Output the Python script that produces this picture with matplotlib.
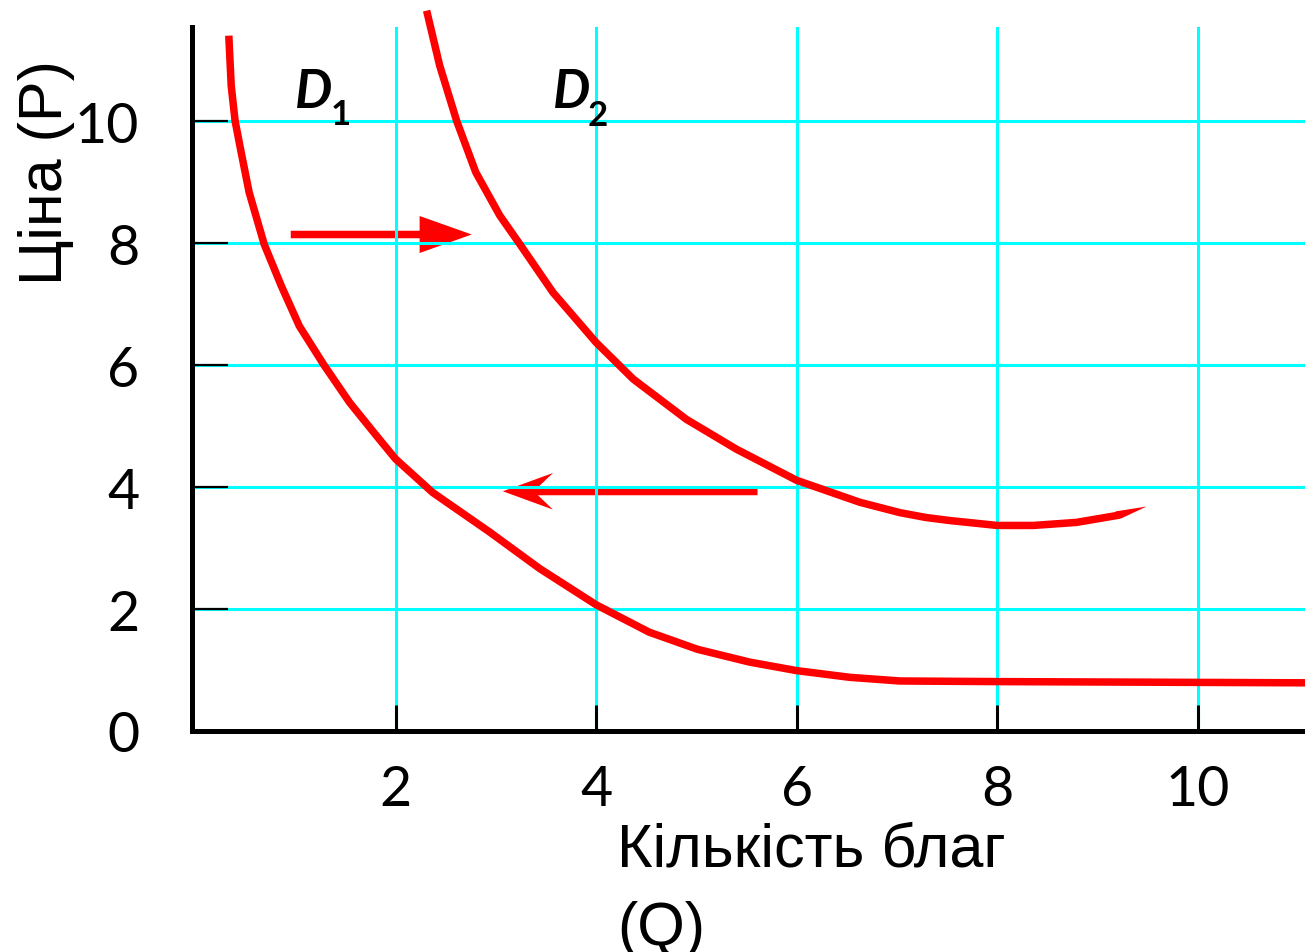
import matplotlib.pyplot as plt

plt.rcParams['font.family'] = ['Liberation Sans', 'DejaVu Sans']

# Demand curve D1
q1 = [0.337, 0.361, 0.40, 0.46, 0.54, 0.69, 0.86, 1.04, 1.29, 1.54, 1.81, 2.0, 2.37,
      2.94, 3.44, 4.0, 4.53, 5.01, 5.53, 6.0, 6.53, 7.03, 8.0, 11.07]
p1 = [11.40, 10.58, 10.0, 9.49, 8.83, 7.98, 7.30, 6.64, 5.99, 5.39, 4.84, 4.46, 3.91,
      3.26, 2.66, 2.07, 1.62, 1.34, 1.13, 0.99, 0.88, 0.82, 0.81, 0.79]

# Demand curve D2 (shifted to the right)
q2 = [2.31, 2.44, 2.61, 2.80, 3.04, 3.24, 3.57, 4.0, 4.37, 4.90, 5.40, 6.0, 6.63,
      7.03, 7.29, 7.53, 8.0, 8.36, 8.79, 9.22]
p2 = [11.81, 10.91, 10.0, 9.16, 8.45, 7.98, 7.19, 6.37, 5.77, 5.11, 4.62, 4.11, 3.75,
      3.58, 3.50, 3.45, 3.37, 3.37, 3.42, 3.54]

# tapered tip at the end of D2
tip_q = [9.18, 9.49, 9.23]
tip_p = [3.60, 3.68, 3.48]

# shift arrows: (start q, end q, p)
arrow_right = (0.955, 2.76, 8.14)
arrow_left = (5.61, 3.07, 3.93)

x_ticks = [2, 4, 6, 8, 10]
y_ticks = [0, 2, 4, 6, 8, 10]

fig = plt.figure(figsize=(13.05, 9.53), dpi=100)
ax = fig.add_axes([192 / 1305, 1 - 732 / 953, 1 - 192 / 1305, (732 - 27.5) / 953])
ax.set_xlim(-0.03, 11.07)
ax.set_ylim(0, 11.55)

# grid and axes
ax.set_xticks(x_ticks)
ax.set_yticks(y_ticks)
ax.grid(True, color='#00FFFF', linewidth=2.2)
for side in ['top', 'right']:
    ax.spines[side].set_visible(False)
for side in ['left', 'bottom']:
    ax.spines[side].set_linewidth(3.6)
    ax.spines[side].set_capstyle('projecting')

tick_font = dict(family=['Lato', 'Open Sans', 'DejaVu Sans'], size=40)
ax.tick_params(axis='y', direction='in', length=26, width=1.6, pad=38)
ax.tick_params(axis='x', direction='in', length=19, width=2.2, pad=24)
ax.set_xticklabels([str(v) for v in x_ticks], fontdict=tick_font)
ax.set_yticklabels([str(v) for v in y_ticks], fontdict=tick_font)

# curves
ax.plot(q1, p1, color='red', linewidth=5.4, solid_capstyle='butt', solid_joinstyle='round', clip_on=False)
ax.plot(q2, p2, color='red', linewidth=5.4, solid_capstyle='butt', solid_joinstyle='round', clip_on=False)
ax.fill(tip_q, tip_p, color='red', linewidth=0, clip_on=False)

# arrows showing the shift of demand
x0, x1, y = arrow_right
ax.arrow(x0, y, x1 - x0, 0, width=0.123, head_width=0.607, head_length=0.52,
         length_includes_head=True, color='red', linewidth=0)
x0, x1, y = arrow_left
ax.arrow(x0, y, x1 - x0, 0, width=0.13, head_width=0.6, head_length=0.5, overhang=0.3,
         length_includes_head=True, color='red', linewidth=0)

# curve labels
lab_font = ['Lato', 'Open Sans', 'DejaVu Sans']
ax.text(1.0, 10.23, 'D', fontsize=38, fontweight='bold', fontstyle='italic', family=lab_font)
ax.text(1.35, 9.95, '1', fontsize=25, fontweight='bold', family=lab_font)
ax.text(3.57, 10.23, 'D', fontsize=38, fontweight='bold', fontstyle='italic', family=lab_font)
ax.text(3.92, 9.93, '2', fontsize=25, fontweight='bold', family=lab_font)

# axis titles
fig.text(47 / 1305, 1 - 172.5 / 953, 'Ціна (P)', rotation=90, ha='center', va='center', fontsize=44)
fig.text(617 / 1305, 1 - 867 / 953, 'Кількість благ', ha='left', va='baseline', fontsize=44)
fig.text(617 / 1305, 1 - 945 / 953, '(Q)', ha='left', va='baseline', fontsize=44)

fig.savefig('out.png', dpi=100)
